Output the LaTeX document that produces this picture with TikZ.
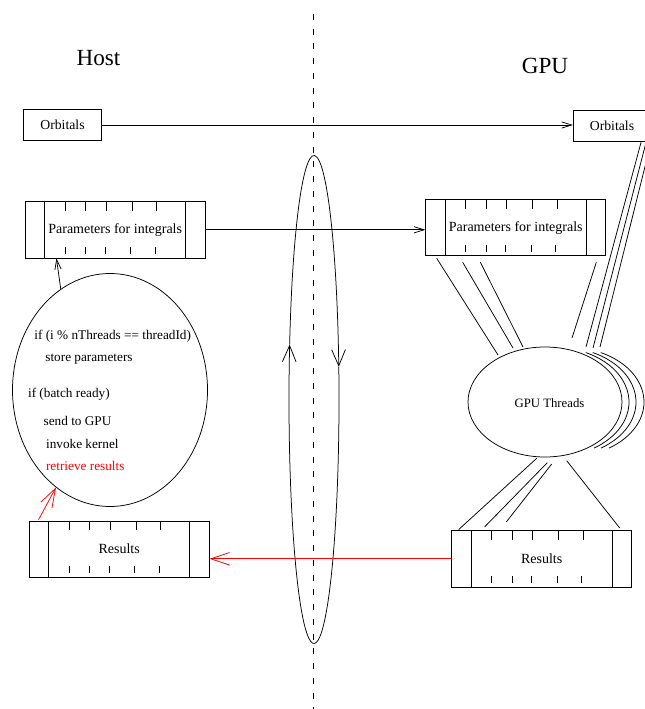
\documentclass[tikz,border=0pt]{standalone}
\usepackage{fontspec}
\setmainfont{Liberation Serif}
\usetikzlibrary{arrows.meta,calc,shapes.geometric}

\begin{document}
\begin{tikzpicture}[x=0.8pt, y=-0.8pt, line width=0.6pt,
    every node/.style={font=\fontsize{11}{13}\selectfont},
    box/.style={draw, minimum width=62pt, minimum height=25pt, inner sep=0pt},
    buffer/.style={draw, minimum width=144pt, minimum height=45pt, inner sep=0pt,
      font=\fontsize{11.2}{13}\selectfont,
      path picture={
        \draw ([xshift=15.6pt]path picture bounding box.north west) -- ([xshift=15.6pt]path picture bounding box.south west);
        \draw ([xshift=-15.6pt]path picture bounding box.north east) -- ([xshift=-15.6pt]path picture bounding box.south east);
        \foreach \tk in {32,48.4,64.6,85.6,105.2}
          \draw ([xshift=\tk pt]path picture bounding box.north west) -- ++(0pt,-7.2pt);
        \foreach \tk in {32,48.4,64,84.4,104}
          \draw ([xshift=\tk pt, yshift=3.2pt]path picture bounding box.south west) -- ++(0pt,5.6pt);
      }},
    bubble/.style={draw, ellipse, inner sep=0pt},
    code/.style={anchor=west, inner sep=0pt, font=\fontsize{10.6}{12}\selectfont},
    side/.style={font=\fontsize{18.5}{22}\selectfont},
    link/.style={-{Straight Barb[length=8pt,width=5pt]}},
    back/.style={red, -{Straight Barb[length=15pt,width=10pt]}},
    turn/.style={-{Straight Barb[length=13pt,width=11pt]}}]
  \useasboundingbox (0,0) rectangle (645,709);

  \node[side] (host) at (98.5,58.5) {Host};
  \node[side] (gpu) at (545,66) {GPU};
  \coordinate (top) at (313.5,14);
  \coordinate (bot) at (313.5,712);
  \draw[dash pattern=on 4.8pt off 7pt] (top) -- (bot);

  % host side
  \node[box] (horb) at (62.5,125) {Orbitals};
  \node[buffer] (hpar) at (115.2,229.8) {Parameters for integrals};
  \node[buffer] (hres) at (119.2,549.2) {Results};
  \node[bubble, minimum width=156pt, minimum height=186.4pt] (cell) at (110,390) {};
  \node[code] (c1) at (34,336) {if (i \% nThreads == threadId)};
  \node[code] (c2) at (45,359.3) {store parameters};
  \node[code] (c3) at (27.7,394) {if (batch ready)};
  \node[code] (c4) at (43.3,420.7) {send to GPU};
  \node[code] (c5) at (45.7,444) {invoke kernel};
  \node[code, red] (c6) at (45.7,465.7) {retrieve results};

  % gpu side
  \node[box] (gorb) at (612,126) {Orbitals};
  \node[buffer] (gpar) at (515.7,227.7) {Parameters for integrals};
  \node[buffer] (gres) at (541.7,558.8) {Results};
  \node[bubble, minimum width=123.2pt, minimum height=88pt,
    label={[xshift=3.6pt, yshift=-1pt, font=\fontsize{10.2}{12}\selectfont]center:GPU Threads}] (thr) at (545,402) {};
  \foreach \o in {7,14,22}
    \draw ($(thr.center)+(\o,0)+(-64:77 and 55)$) arc[start angle=-64, end angle=57, x radius=77, y radius=55];

  % transfer loop
  \coordinate (ctr) at (314,399.5);
  \draw[turn] ($(ctr)+(90:25 and 244)$) arc[start angle=90, end angle=193, x radius=25, y radius=244];
  \draw[turn] ($(ctr)+(193:25 and 244)$) arc[start angle=193, end angle=352.3, x radius=25, y radius=244];
  \draw ($(ctr)+(352.3:25 and 244)$) arc[start angle=352.3, end angle=450, x radius=25, y radius=244];

  \draw[link] (horb.east) -- (horb.east -| gorb.west);
  \draw[link] (hpar.east) -- (hpar.east -| gpar.west);
  \draw[link] (cell.116) -- ($(hpar.south west)+(31.6,0)$);
  \draw[back] (gres.west) -- (gres.west -| hres.east);
  \draw[back] ($(hres.north west)+(9.7,-1)$) -- (cell.241);

  \draw ($(gpar.south west)+(11.3,2)$) -- ($(thr.center)+(-47,-47)$);
  \draw ($(gpar.south west)+(37.3,6)$) -- ($(thr.center)+(-32,-54)$);
  \draw ($(gpar.south west)+(55,6)$) -- ($(thr.center)+(-22,-55)$);
  \draw ($(gpar.south west)+(171,6)$) -- ($(thr.center)+(27,-64)$);
  \draw ($(gorb.south east)+(-10,0)$) -- ($(thr.center)+(41,-55)$);
  \draw ($(gorb.south east)+(-5,0)$) -- ($(thr.center)+(48,-54)$);
  \draw ($(gorb.south east)+(0,0)$) -- ($(thr.center)+(55,-55)$);
  \draw ($(thr.center)+(-8.3,56.3)$) -- ($(gres.north west)+(7.3,-0.7)$);
  \draw ($(thr.center)+(2.3,60.7)$) -- ($(gres.north west)+(33.3,-3.4)$);
  \draw ($(thr.center)+(6.7,62)$) -- ($(gres.north west)+(55,-8.4)$);
  \draw ($(thr.center)+(21.7,58.7)$) -- ($(gres.north west)+(168.3,-2.4)$);
\end{tikzpicture}
\end{document}
